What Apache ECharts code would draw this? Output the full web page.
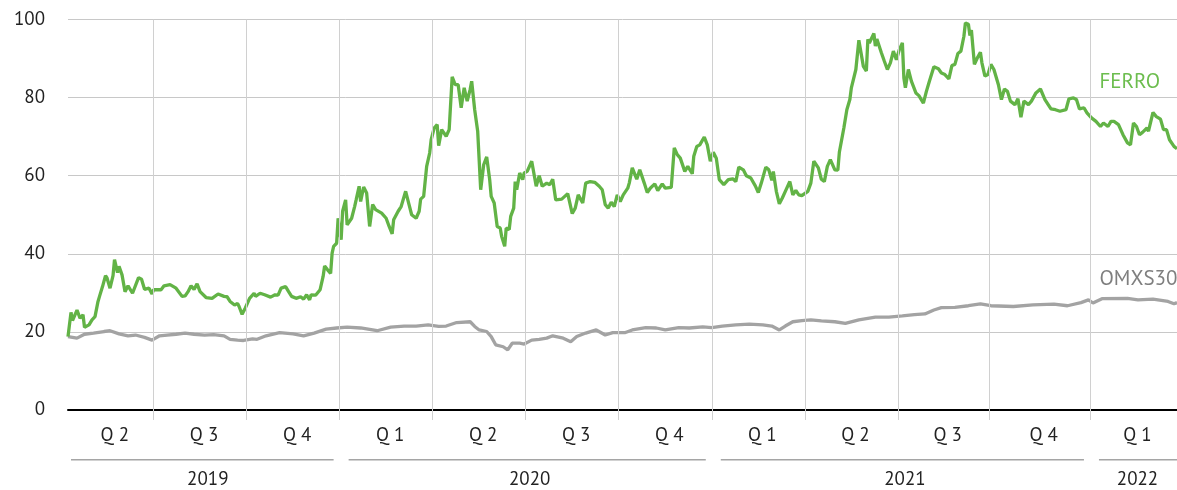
<!DOCTYPE html>
<html>
<head>
<meta charset="utf-8">
<script src="https://cdn.jsdelivr.net/npm/echarts@6/dist/echarts.min.js"></script>
<style>
  html, body { margin: 0; padding: 0; background: #fff; }
  #chart { width: 1177px; height: 490px; }
</style>
</head>
<body>
<div id="chart"></div>
<script>
// x unit: trading-day index from the first observation
const dayMax = 739;
const quarterBounds = [57, 119, 181, 243, 305, 367, 429, 491, 553, 614, 681];
const quarterLabels = ['Q 2', 'Q 3', 'Q 4', 'Q 1', 'Q 2', 'Q 3', 'Q 4', 'Q 1', 'Q 2', 'Q 3', 'Q 4', 'Q 1'];
const yearLabels = ['2019', '2020', '2021', '2022'];
const yearBounds = [0, 181, 429, 681, 739];
const yTicks = [0, 20, 40, 60, 80, 100];

const ferroDays = [0, 2, 3, 6, 8, 10, 11, 14, 16, 18, 20, 21, 23, 25, 26, 28, 30, 31, 33, 34, 36, 38, 40, 43, 47, 49, 51, 54, 56, 57,
  62, 64, 68, 72, 76, 78, 80, 82, 84, 86, 88, 92, 96, 100, 104, 106, 108, 111, 113, 114, 116, 118, 121, 124, 125, 128, 131, 135, 138, 140,
  142, 145, 147, 149, 152, 155, 157, 159, 161, 162, 165, 168, 170, 171, 173, 175, 176, 177, 179, 180, 181, 182, 183, 185, 186, 189, 191, 192, 194, 195,
  197, 199, 201, 203, 205, 209, 212, 214, 216, 217, 220, 222, 225, 227, 229, 232, 234, 235, 237, 239, 241, 242, 244, 246, 247, 249, 252, 254, 256, 258,
  260, 262, 264, 266, 268, 269, 271, 273, 275, 277, 279, 281, 282, 284, 286, 288, 289, 291, 292, 294, 295, 297, 298, 299, 301, 303, 304, 306, 309, 312,
  314, 316, 319, 321, 323, 325, 329, 331, 333, 336, 338, 340, 343, 345, 348, 351, 354, 356, 358, 360, 362, 364, 366, 368, 370, 373, 374, 376, 379, 381,
  384, 386, 388, 391, 393, 396, 398, 402, 404, 406, 408, 411, 413, 416, 417, 419, 421, 424, 426, 428, 430, 432, 434, 437, 440, 443, 445, 447, 450, 452,
  455, 458, 460, 462, 465, 467, 469, 470, 472, 474, 476, 478, 481, 483, 485, 487, 489, 493, 495, 497, 500, 502, 504, 506, 508, 511, 513, 514, 517, 518,
  519, 521, 522, 523, 525, 527, 528, 530, 532, 533, 534, 537, 538, 539, 542, 544, 546, 548, 550, 552, 554, 556, 557, 558, 560, 562, 563, 565, 567, 570,
  572, 574, 577, 580, 582, 584, 587, 589, 591, 593, 595, 597, 598, 600, 601, 602, 604, 606, 608, 609, 611, 613, 615, 617, 620, 622, 624, 626, 628, 631,
  633, 635, 637, 640, 642, 645, 648, 651, 655, 658, 661, 665, 667, 670, 672, 674, 677, 679, 682, 685, 688, 690, 693, 695, 697, 700, 703, 706, 708, 710,
  712, 714, 716, 719, 720, 723, 725, 728, 730, 732, 734, 737, 739];
const ferroValues = [18.8, 25.0, 22.9, 25.6, 23.5, 24.4, 21.2, 21.8, 23.1, 23.9, 27.8, 29.1, 31.6, 34.4, 33.8, 31.2, 34.4, 38.5, 35.2, 36.8, 34.6, 30.3, 31.8, 29.9, 33.9, 33.5, 30.9, 31.2, 29.7, 30.8,
  30.8, 31.8, 32.1, 31.2, 29.1, 29.2, 30.3, 31.8, 30.9, 32.3, 30.3, 28.8, 28.6, 29.7, 29.1, 29.0, 27.8, 26.9, 27.3, 26.5, 24.5, 26.0, 28.6, 29.9, 29.1, 29.9, 29.5, 28.9, 29.5, 29.4,
  31.2, 31.6, 30.3, 29.1, 28.6, 29.0, 28.4, 29.5, 28.2, 29.5, 29.4, 30.8, 34.2, 36.9, 35.9, 35.0, 40.2, 41.9, 42.7, 49.1, 45.3, 43.6, 50.9, 53.8, 47.4, 49.1, 52.1, 53.8, 57.3, 53.4,
  57.1, 55.6, 47.0, 52.6, 51.3, 50.4, 49.1, 47.0, 45.1, 48.7, 50.9, 52.1, 56.0, 53.0, 50.0, 49.1, 50.9, 54.0, 54.7, 62.4, 65.8, 69.2, 72.2, 73.1, 67.7, 71.8, 70.1, 71.8, 85.3, 83.3,
  83.3, 77.4, 82.5, 79.1, 82.1, 84.2, 76.9, 71.4, 56.4, 62.8, 64.8, 59.0, 54.7, 53.0, 47.0, 46.6, 44.4, 41.9, 46.6, 46.2, 49.6, 51.7, 58.5, 56.4, 60.7, 59.0, 60.7, 61.1, 63.7, 57.3,
  60.0, 57.3, 58.1, 57.7, 59.1, 53.8, 54.0, 54.7, 55.4, 50.3, 51.7, 55.1, 53.0, 58.1, 58.5, 58.3, 57.3, 56.4, 52.6, 51.7, 53.2, 52.1, 55.1, 53.4, 55.1, 56.8, 58.1, 62.0, 59.1, 61.5,
  58.1, 55.7, 56.8, 57.9, 56.2, 57.9, 56.8, 57.0, 67.1, 65.4, 64.5, 61.1, 62.4, 60.5, 65.0, 67.5, 67.9, 69.9, 67.9, 63.7, 66.0, 64.5, 59.0, 57.7, 59.0, 59.2, 58.5, 62.2, 61.5, 60.0,
  59.4, 57.4, 55.7, 58.1, 62.2, 61.5, 58.8, 61.1, 56.0, 52.8, 54.3, 56.0, 58.5, 55.1, 56.2, 55.1, 54.9, 56.0, 58.1, 63.7, 62.0, 59.1, 58.5, 62.4, 64.1, 61.5, 61.4, 66.0, 72.2, 72.6,
  76.9, 79.5, 82.5, 82.1, 87.2, 94.7, 94.5, 88.0, 86.8, 94.9, 94.0, 96.4, 93.2, 95.0, 91.5, 89.3, 87.2, 88.9, 91.9, 89.7, 92.3, 94.0, 85.0, 82.5, 87.2, 84.2, 84.5, 81.2, 80.5, 78.6,
  81.6, 84.2, 87.9, 87.4, 86.3, 86.0, 84.8, 88.2, 88.5, 91.3, 91.9, 95.7, 99.1, 98.8, 95.9, 97.3, 88.5, 90.2, 91.6, 88.9, 85.5, 85.9, 88.5, 87.2, 83.3, 79.5, 82.2, 81.6, 79.1, 78.2,
  79.7, 75.0, 79.1, 78.2, 79.1, 81.2, 82.2, 79.5, 77.1, 76.9, 76.5, 76.9, 79.7, 79.9, 79.5, 77.1, 77.4, 76.1, 74.8, 73.9, 72.6, 73.5, 72.6, 73.9, 73.9, 73.1, 70.5, 68.4, 67.9, 73.5,
  72.6, 70.5, 71.1, 72.2, 71.4, 76.2, 75.2, 74.5, 71.8, 71.8, 69.2, 67.5, 66.9];

const omxDays = [0, 6, 11, 17, 24, 28, 34, 40, 45, 51, 56, 61, 66, 72, 78, 84, 91, 97, 104, 108, 113, 117, 123, 126, 132, 141, 150, 157, 164, 172,
  179, 186, 195, 206, 215, 224, 232, 240, 247, 252, 259, 268, 271, 274, 279, 282, 285, 290, 293, 296, 301, 304, 309, 314, 319, 323, 330, 335, 339, 345,
  352, 358, 363, 371, 376, 385, 392, 398, 407, 414, 423, 429, 436, 445, 454, 463, 469, 474, 478, 483, 489, 495, 502, 511, 518, 527, 538, 547, 556, 564,
  571, 577, 582, 591, 600, 608, 615, 630, 643, 657, 666, 675, 680, 683, 689, 706, 713, 723, 733, 737, 739];
const omxValues = [18.8, 18.4, 19.4, 19.7, 20.1, 20.3, 19.5, 19.0, 19.2, 18.6, 17.9, 19.0, 19.2, 19.4, 19.7, 19.4, 19.2, 19.3, 19.0, 18.1, 17.9, 17.8, 18.2, 18.1, 19.0, 19.8, 19.5, 19.0, 19.7, 20.7,
  21.0, 21.2, 21.0, 20.3, 21.2, 21.5, 21.5, 21.8, 21.4, 21.5, 22.4, 22.6, 21.4, 20.5, 20.1, 18.8, 16.7, 16.2, 15.4, 17.1, 17.1, 16.9, 17.9, 18.1, 18.4, 19.0, 18.4, 17.5, 18.8, 19.7,
  20.5, 19.2, 19.8, 19.8, 20.5, 21.1, 21.0, 20.5, 21.1, 21.0, 21.3, 21.1, 21.5, 21.8, 22.0, 21.8, 21.5, 20.5, 21.5, 22.6, 22.9, 23.1, 22.8, 22.6, 22.2, 23.1, 23.8, 23.8, 24.1, 24.4,
  24.6, 25.6, 26.2, 26.3, 26.7, 27.2, 26.7, 26.5, 26.9, 27.1, 26.7, 27.5, 28.2, 27.4, 28.5, 28.6, 28.2, 28.4, 27.8, 27.2, 27.5];

const zip = (xs, ys) => xs.map((x, i) => [x, ys[i]]);

// quarter label positions = quarter midpoints
const qEdges = [0].concat(quarterBounds, [dayMax]);
const quarterMids = quarterLabels.map((_, i) => (qEdges[i] + qEdges[i + 1]) / 2);
const qMap = {};
quarterMids.forEach((m, i) => { qMap[String(m)] = quarterLabels[i]; });
const yearMids = yearLabels.map((_, i) => (yearBounds[i] + yearBounds[i + 1]) / 2);
const yMap = {};
yearMids.forEach((m, i) => { yMap[String(m)] = yearLabels[i]; });

const FONT = "'PT Sans', 'Noto Sans', sans-serif";
const GREEN = '#62b346';
const GREY = '#a3a3a3';

const yearLineSeries = yearLabels.map((y, i) => {
  const s = i === 0 ? yearBounds[i] + 2 : yearBounds[i] + 6;
  const e = i === yearLabels.length - 1 ? yearBounds[i + 1] : yearBounds[i + 1] - 4;
  return {
    type: 'line', xAxisIndex: 1, yAxisIndex: 1, silent: true, symbol: 'none',
    lineStyle: { color: '#4a4a4a', width: 1 },
    data: [[s, 0], [e, 0]]
  };
});

const chart = echarts.init(document.getElementById('chart'));
chart.setOption({
  animation: false,
  backgroundColor: '#fff',
  textStyle: { fontFamily: FONT },
  grid: [
    { left: 68, right: 0, top: 19.5, bottom: 80 },
    { left: 68, right: 0, top: 455, height: 5 }
  ],
  xAxis: [
    {
      gridIndex: 0, type: 'value', min: 0, max: dayMax,
      axisLine: { show: true, lineStyle: { color: '#000', width: 2 } },
      axisTick: { show: true, customValues: quarterBounds, length: 10, lineStyle: { color: '#d0d0d0', width: 1 } },
      axisLabel: {
        customValues: quarterMids, formatter: v => qMap[String(v)] || '',
        margin: 16, fontSize: 19, color: '#222', fontFamily: FONT, padding: [0, 0, 0, 8]
      },
      splitLine: { show: false }
    },
    {
      gridIndex: 1, type: 'value', min: 0, max: dayMax,
      axisLine: { show: false }, axisTick: { show: false },
      axisLabel: {
        customValues: yearMids, formatter: v => yMap[String(v)] || '',
        margin: 10, fontSize: 19, color: '#222', fontFamily: FONT, padding: [0, 0, 0, 8]
      },
      splitLine: { show: false }
    }
  ],
  yAxis: [
    {
      gridIndex: 0, type: 'value', min: 0, max: 100, interval: 20,
      axisLine: { show: false }, axisTick: { show: false },
      axisLabel: { fontSize: 19, color: '#222', margin: 23, fontFamily: FONT, padding: [5, 0, 0, 0],
        formatter: v => yTicks.includes(v) ? String(v) : '' },
      splitLine: { show: true, lineStyle: { color: '#c8c8c8', width: 1 } }
    },
    {
      gridIndex: 1, type: 'value', min: 0, max: 1, show: false
    }
  ],
  series: [
    {
      name: 'OMXS30', type: 'line', xAxisIndex: 0, yAxisIndex: 0, symbol: 'none', silent: true,
      lineStyle: { color: GREY, width: 3.3 },
      data: zip(omxDays, omxValues),
      markLine: {
        silent: true, symbol: ['none', 'none'], label: { show: false },
        lineStyle: { color: '#d0d0d0', type: 'solid', width: 1 },
        data: quarterBounds.map(b => ({ xAxis: b }))
      },
      markPoint: {
        silent: true, symbol: 'rect', symbolSize: 1, itemStyle: { color: 'transparent' },
        label: { show: true, position: 'right', distance: 0, formatter: 'OMXS30', color: '#7f7f7f', fontSize: 21, fontFamily: FONT },
        data: [{ coord: [687, 33.5] }]
      }
    },
    {
      name: 'FERRO', type: 'line', xAxisIndex: 0, yAxisIndex: 0, symbol: 'none', silent: true,
      lineStyle: { color: GREEN, width: 3.3 },
      data: zip(ferroDays, ferroValues),
      markPoint: {
        silent: true, symbol: 'rect', symbolSize: 1, itemStyle: { color: 'transparent' },
        label: { show: true, position: 'right', distance: 0, formatter: 'FERRO', color: '#6cbd4e', fontSize: 21, fontFamily: FONT },
        data: [{ coord: [687, 84.1] }]
      }
    }
  ].concat(yearLineSeries)
});
</script>
</body>
</html>
